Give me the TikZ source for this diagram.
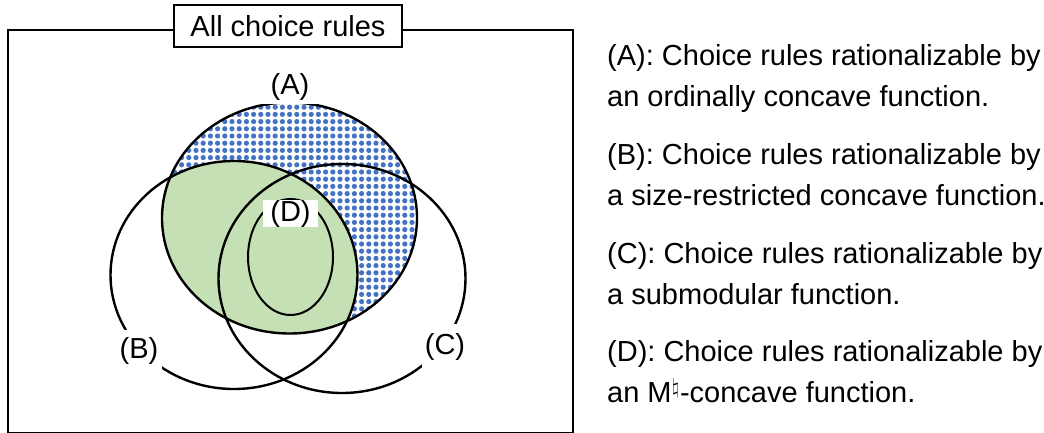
\documentclass[tikz,border=0pt]{standalone}
\usepackage{fontspec}
\setmainfont{Liberation Sans}
\definecolor{dotblue}{HTML}{4472C4}
\definecolor{lgreen}{HTML}{C5E0B4}
\begin{document}
\begin{tikzpicture}[x=1pt,y=-1pt]
\tikzset{
  txt/.style={font=\fontsize{29}{34}\selectfont, inner sep=0pt},
  setline/.style={line width=2.4pt, draw=black},
  lblbox/.style={txt, fill=white},
  desc/.style={txt, anchor=base west},
}
\useasboundingbox (0,0) rectangle (1044,433);
% outer frame
\draw[line width=1.8pt] (8,30) rectangle (573,432.5);
\node[txt, draw, fill=white, line width=1.2pt, minimum width=228, minimum height=42] (title) at (288,26) {All choice rules};
% set A background with dot pattern
\fill[white] (289.5,218) ellipse [x radius=127.5, y radius=115.5];
\begin{scope}
  \clip (289.5,218) ellipse [x radius=127.5, y radius=115.5];
  \fill[dotblue] \foreach \i in {0,...,36} { \foreach \j in {0,...,33} { (160+7.2*\i,100+7.2*\j) circle (2.6) } };
\end{scope}
% A intersect B in green
\begin{scope}
  \clip (289.5,218) ellipse [x radius=127.5, y radius=115.5];
  \fill[lgreen] (234,275) ellipse [x radius=123.5, y radius=114];
\end{scope}
% outlines
\draw[setline] (289.5,218) ellipse [x radius=127.5, y radius=115.5];
\draw[setline] (234,275) ellipse [x radius=123.5, y radius=114];
\draw[setline] (342,278.5) ellipse [x radius=123.5, y radius=114.5];
\draw[setline, line width=2pt] (290.5,257) ellipse [x radius=42.5, y radius=58];
% labels
\node[lblbox, minimum width=76, minimum height=34] (la) at (290,87) {(A)};
\node[lblbox, minimum width=46, minimum height=42] (lb) at (139,351) {(B)};
\node[lblbox, minimum width=46, minimum height=46] (lc) at (445,347) {\raisebox{-3pt}{(C)}};
\node[lblbox, minimum width=55, minimum height=27] (ld) at (290.5,213.5) {(D)};
% descriptions
\node[desc] (a1) at (607,66) {(A): Choice rules rationalizable by};
\node[desc] (a2) at (607,107) {an ordinally concave function.};
\node[desc] (b1) at (607,164.5) {(B): Choice rules rationalizable by};
\node[desc] (b2) at (607,205.5) {a size-restricted concave function.};
\node[desc] (c1) at (607,263) {(C): Choice rules rationalizable by};
\node[desc] (c2) at (607,304) {a submodular function.};
\node[desc] (d1) at (607,361.5) {(D): Choice rules rationalizable by};
\node[desc] (d2) at (607,402.5) {an M$^{\natural}$-concave function.};
\end{tikzpicture}
\end{document}
